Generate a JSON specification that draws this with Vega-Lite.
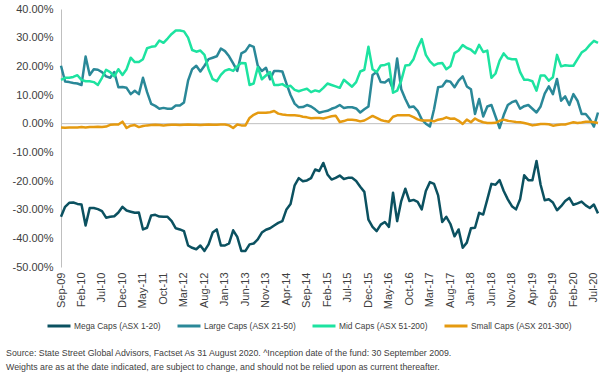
{
  "$schema": "https://vega.github.io/schema/vega-lite/v6.json",
  "width": 537,
  "height": 258,
  "autosize": {"type": "none"},
  "padding": {"left": 61, "top": 9, "right": 4, "bottom": 106},
  "background": "white",
  "config": {"font": "Liberation Sans", "view": {"stroke": null}, "axisY": {"labelOverlap": false}},
  "title": {
    "text": ["Source: State Street Global Advisors, Factset As 31 August 2020. ^Inception date of the fund: 30 September 2009.", "Weights are as at the date indicated, are subject to change, and should not be relied upon as current thereafter."],
    "orient": "bottom", "anchor": "start", "frame": "bounds", "fontSize": 8.8, "fontWeight": "normal", "color": "#404040", "offset": 17, "dx": -6, "lineHeight": 14
  },
  "data": {"values": [
    {"m":"Sep-09","mega":-32.5,"large":20.2,"mid":15.3,"small":-1.3},
    {"m":"Oct-09","mega":-29,"large":14.7,"mid":16,"small":-1.4},
    {"m":"Nov-09","mega":-27.6,"large":14.5,"mid":16,"small":-1.3},
    {"m":"Dec-09","mega":-27.5,"large":14.2,"mid":16.3,"small":-1.3},
    {"m":"Jan-10","mega":-28,"large":14.0,"mid":16.9,"small":-1.3},
    {"m":"Feb-10","mega":-28.2,"large":13.5,"mid":15.3,"small":-1.2},
    {"m":"Mar-10","mega":-35.5,"large":23.4,"mid":14.8,"small":-1.3},
    {"m":"Apr-10","mega":-29.4,"large":17,"mid":14.8,"small":-1.2},
    {"m":"May-10","mega":-29.4,"large":19,"mid":14.5,"small":-1.2},
    {"m":"Jun-10","mega":-29.8,"large":18.8,"mid":13.5,"small":-1.1},
    {"m":"Jul-10","mega":-30.5,"large":18,"mid":16,"small":-1.2},
    {"m":"Aug-10","mega":-32.8,"large":16.5,"mid":18.8,"small":-1.0},
    {"m":"Sep-10","mega":-32.5,"large":16,"mid":18,"small":-0.4},
    {"m":"Oct-10","mega":-32.3,"large":18,"mid":16.5,"small":-0.3},
    {"m":"Nov-10","mega":-31,"large":12.7,"mid":19,"small":-0.3},
    {"m":"Dec-10","mega":-29,"large":12.8,"mid":17,"small":0.7},
    {"m":"Jan-11","mega":-30.3,"large":12.5,"mid":19,"small":-1.5},
    {"m":"Feb-11","mega":-30.7,"large":10.3,"mid":23,"small":-0.7},
    {"m":"Mar-11","mega":-31.1,"large":11.5,"mid":21.5,"small":-0.5},
    {"m":"Apr-11","mega":-31,"large":10.3,"mid":21.5,"small":-1.2},
    {"m":"May-11","mega":-36.9,"large":16,"mid":22.5,"small":-0.8},
    {"m":"Jun-11","mega":-36.3,"large":11,"mid":26.3,"small":-0.6},
    {"m":"Jul-11","mega":-32,"large":6.9,"mid":26.8,"small":-0.5},
    {"m":"Aug-11","mega":-31.8,"large":6.2,"mid":27,"small":-0.4},
    {"m":"Sep-11","mega":-32.4,"large":5.2,"mid":29,"small":-0.5},
    {"m":"Oct-11","mega":-32.5,"large":5.5,"mid":28.2,"small":-0.6},
    {"m":"Nov-11","mega":-32.5,"large":5.2,"mid":29.7,"small":-0.5},
    {"m":"Dec-11","mega":-34,"large":5.2,"mid":31.3,"small":-0.4},
    {"m":"Jan-12","mega":-36.5,"large":6.3,"mid":32.5,"small":-0.4},
    {"m":"Feb-12","mega":-36.9,"large":6.3,"mid":32.5,"small":-0.5},
    {"m":"Mar-12","mega":-37.5,"large":7.4,"mid":32.2,"small":-0.4},
    {"m":"Apr-12","mega":-42.5,"large":15,"mid":30,"small":-0.3},
    {"m":"May-12","mega":-43.3,"large":19,"mid":25.7,"small":-0.4},
    {"m":"Jun-12","mega":-43.8,"large":20.2,"mid":25.1,"small":-0.4},
    {"m":"Jul-12","mega":-42.5,"large":18.2,"mid":25.5,"small":-0.5},
    {"m":"Aug-12","mega":-44.4,"large":20.2,"mid":24,"small":-0.4},
    {"m":"Sep-12","mega":-42.1,"large":22.5,"mid":19,"small":-0.3},
    {"m":"Oct-12","mega":-38,"large":23,"mid":15.5,"small":-0.4},
    {"m":"Nov-12","mega":-36.9,"large":23.5,"mid":14.8,"small":-0.4},
    {"m":"Dec-12","mega":-42.5,"large":26.2,"mid":17,"small":-0.3},
    {"m":"Jan-13","mega":-42.5,"large":25.3,"mid":18.5,"small":-0.3},
    {"m":"Feb-13","mega":-41.8,"large":23.5,"mid":19,"small":-0.6},
    {"m":"Mar-13","mega":-37.2,"large":21,"mid":18.4,"small":-1.5},
    {"m":"Apr-13","mega":-39.5,"large":18.4,"mid":20,"small":-0.3},
    {"m":"May-13","mega":-44.4,"large":24.5,"mid":21.2,"small":-0.6},
    {"m":"Jun-13","mega":-44.4,"large":25.3,"mid":21.1,"small":-0.6},
    {"m":"Jul-13","mega":-42.1,"large":27.4,"mid":13.5,"small":2},
    {"m":"Aug-13","mega":-41.8,"large":26.8,"mid":14,"small":3.1},
    {"m":"Sep-13","mega":-40.4,"large":20.2,"mid":19.7,"small":3.8},
    {"m":"Oct-13","mega":-38,"large":18.4,"mid":15.5,"small":3.8},
    {"m":"Nov-13","mega":-37,"large":19.5,"mid":16.8,"small":3.8},
    {"m":"Dec-13","mega":-36.5,"large":15.5,"mid":18,"small":4.0},
    {"m":"Jan-14","mega":-35.5,"large":18.4,"mid":13.5,"small":4.4},
    {"m":"Feb-14","mega":-34.6,"large":18.4,"mid":13.5,"small":3.5},
    {"m":"Mar-14","mega":-34,"large":18.2,"mid":13.8,"small":3.2},
    {"m":"Apr-14","mega":-29.9,"large":14,"mid":12.9,"small":3.0},
    {"m":"May-14","mega":-28,"large":10,"mid":13.2,"small":2.9},
    {"m":"Jun-14","mega":-21.5,"large":7,"mid":11.8,"small":2.9},
    {"m":"Jul-14","mega":-19,"large":5.7,"mid":11.3,"small":2.8},
    {"m":"Aug-14","mega":-20.1,"large":5.8,"mid":11.8,"small":2.4},
    {"m":"Sep-14","mega":-19.8,"large":6.5,"mid":12.2,"small":2.2},
    {"m":"Oct-14","mega":-19,"large":6,"mid":11,"small":1.9},
    {"m":"Nov-14","mega":-16,"large":5,"mid":11.6,"small":2.0},
    {"m":"Dec-14","mega":-16.5,"large":3.8,"mid":11.2,"small":2.0},
    {"m":"Jan-15","mega":-13.7,"large":4.2,"mid":12.5,"small":1.8},
    {"m":"Feb-15","mega":-17.7,"large":4.5,"mid":14,"small":2.2},
    {"m":"Mar-15","mega":-19.5,"large":5.2,"mid":13.5,"small":2.6},
    {"m":"Apr-15","mega":-18.9,"large":5.7,"mid":13,"small":2.8},
    {"m":"May-15","mega":-18.1,"large":6.5,"mid":12.5,"small":0.6},
    {"m":"Jun-15","mega":-19.3,"large":5.5,"mid":15.3,"small":0.9},
    {"m":"Jul-15","mega":-18.9,"large":5.7,"mid":14.1,"small":1.4},
    {"m":"Aug-15","mega":-18.9,"large":5.7,"mid":12.9,"small":1.4},
    {"m":"Sep-15","mega":-20,"large":5.3,"mid":14.5,"small":1.2},
    {"m":"Oct-15","mega":-22,"large":3.9,"mid":18.2,"small":0.8},
    {"m":"Nov-15","mega":-23.8,"large":5,"mid":18.8,"small":1.1},
    {"m":"Dec-15","mega":-33.5,"large":6,"mid":26.8,"small":1.9},
    {"m":"Jan-16","mega":-36,"large":17,"mid":19,"small":2.7},
    {"m":"Feb-16","mega":-37.5,"large":18,"mid":18,"small":2.0},
    {"m":"Mar-16","mega":-35.2,"large":14.5,"mid":20.3,"small":1.3},
    {"m":"Apr-16","mega":-34.3,"large":14.4,"mid":20.5,"small":0.9},
    {"m":"May-16","mega":-36,"large":15.5,"mid":21,"small":0.7},
    {"m":"Jun-16","mega":-24.1,"large":12,"mid":10.8,"small":2.4},
    {"m":"Jul-16","mega":-34,"large":22.7,"mid":11.5,"small":2.9},
    {"m":"Aug-16","mega":-27,"large":12,"mid":15,"small":2.9},
    {"m":"Sep-16","mega":-22.7,"large":8.6,"mid":20.3,"small":2.9},
    {"m":"Oct-16","mega":-27,"large":5.7,"mid":20.5,"small":2.9},
    {"m":"Nov-16","mega":-26.6,"large":6,"mid":22.5,"small":2.3},
    {"m":"Dec-16","mega":-27.3,"large":4.5,"mid":26.5,"small":1.5},
    {"m":"Jan-17","mega":-29.9,"large":1.5,"mid":29.5,"small":1.1},
    {"m":"Feb-17","mega":-23.5,"large":0,"mid":24,"small":1.1},
    {"m":"Mar-17","mega":-20.4,"large":-1.0,"mid":21.7,"small":1.1},
    {"m":"Apr-17","mega":-21,"large":5,"mid":20.3,"small":0.8},
    {"m":"May-17","mega":-25,"large":12.7,"mid":21,"small":1.4},
    {"m":"Jun-17","mega":-34.3,"large":13,"mid":21.2,"small":1.6},
    {"m":"Jul-17","mega":-32.5,"large":15,"mid":19,"small":2.2},
    {"m":"Aug-17","mega":-35,"large":14.6,"mid":20,"small":1.7},
    {"m":"Sep-17","mega":-39.3,"large":12.7,"mid":24.6,"small":1.8},
    {"m":"Oct-17","mega":-36.9,"large":15,"mid":25.5,"small":1.0},
    {"m":"Nov-17","mega":-43.3,"large":16.5,"mid":27.4,"small":-0.1},
    {"m":"Dec-17","mega":-41.5,"large":13,"mid":26.4,"small":1.4},
    {"m":"Jan-18","mega":-36.5,"large":12,"mid":25.8,"small":0.5},
    {"m":"Feb-18","mega":-36.3,"large":3.4,"mid":24.5,"small":1.8},
    {"m":"Mar-18","mega":-31.1,"large":8.6,"mid":27.5,"small":1.0},
    {"m":"Apr-18","mega":-31.7,"large":2.5,"mid":25,"small":0.5},
    {"m":"May-18","mega":-26.4,"large":6,"mid":25.5,"small":0.2},
    {"m":"Jun-18","mega":-21,"large":6.5,"mid":16,"small":0.2},
    {"m":"Jul-18","mega":-21.3,"large":2.5,"mid":17.5,"small":0.3},
    {"m":"Aug-18","mega":-19.7,"large":-1.5,"mid":22,"small":1.0},
    {"m":"Sep-18","mega":-23.5,"large":3,"mid":24.5,"small":1.4},
    {"m":"Oct-18","mega":-26.4,"large":6.5,"mid":22.8,"small":1.0},
    {"m":"Nov-18","mega":-28.8,"large":7.5,"mid":22.5,"small":0.8},
    {"m":"Dec-18","mega":-29.9,"large":8,"mid":22.5,"small":0.6},
    {"m":"Jan-19","mega":-26.4,"large":5.2,"mid":18,"small":0.5},
    {"m":"Feb-19","mega":-18,"large":6.1,"mid":15.3,"small":0.2},
    {"m":"Mar-19","mega":-19.7,"large":6.5,"mid":15.3,"small":-0.1},
    {"m":"Apr-19","mega":-19.7,"large":5.2,"mid":14.8,"small":-0.6},
    {"m":"May-19","mega":-13,"large":3.9,"mid":11.5,"small":-0.4},
    {"m":"Jun-19","mega":-21.3,"large":6,"mid":16.8,"small":-0.1},
    {"m":"Jul-19","mega":-26.7,"large":10.5,"mid":16.8,"small":-0.1},
    {"m":"Aug-19","mega":-26.4,"large":13,"mid":15,"small":-0.2},
    {"m":"Sep-19","mega":-27.5,"large":10.3,"mid":16.2,"small":-0.7},
    {"m":"Oct-19","mega":-30.2,"large":15.6,"mid":24,"small":-0.5},
    {"m":"Nov-19","mega":-28.8,"large":8,"mid":20,"small":-0.3},
    {"m":"Dec-19","mega":-27,"large":9.5,"mid":20.4,"small":-0.3},
    {"m":"Jan-20","mega":-25.9,"large":6.5,"mid":20.2,"small":0.1},
    {"m":"Feb-20","mega":-28.3,"large":10.3,"mid":20.2,"small":0.5},
    {"m":"Mar-20","mega":-27.8,"large":8,"mid":22.5,"small":0.2},
    {"m":"Apr-20","mega":-27.2,"large":3.4,"mid":24.8,"small":0.4},
    {"m":"May-20","mega":-28.5,"large":3.4,"mid":25.8,"small":0.7},
    {"m":"Jun-20","mega":-29.4,"large":1.6,"mid":27.5,"small":0.7},
    {"m":"Jul-20","mega":-28.2,"large":-1,"mid":28.9,"small":0.5},
    {"m":"Aug-20","mega":-31.3,"large":3.9,"mid":28.2,"small":0.2}
  ]},
  "layer": [
    {
      "data": {"values": [{}]},
      "mark": {"type": "rule", "color": "#BFBFBF", "strokeWidth": 1},
      "encoding": {
        "y": {
          "datum": 0, "type": "quantitative",
          "axis": {
            "title": null, "values": [-50, -40, -30, -20, -10, 0, 10, 20, 30, 40], "grid": false, "ticks": false,
            "labelOverlap": false, "labelFlush": false,
            "domainColor": "#BFBFBF", "labelFontSize": 11, "labelColor": "#404040", "labelPadding": 8,
            "labelExpr": "replace(format(datum.value, '.2f'), '\u2212', '-') + '%'"
          }
        }
      }
    },
    {
      "transform": [{"fold": ["mega", "large", "mid", "small"], "as": ["series", "value"]}],
      "mark": {"type": "line", "strokeWidth": 2.5, "strokeJoin": "round"},
      "encoding": {
        "x": {
          "field": "m", "type": "ordinal", "sort": null,
          "scale": {"type": "point", "padding": 0},
          "axis": {
            "title": null, "orient": "bottom", "domain": false, "ticks": false, "labelAngle": -90,
            "labelFontSize": 11, "labelColor": "#404040", "labelPadding": 5, "labelOverlap": false,
            "values": ["Sep-09","Feb-10","Jul-10","Dec-10","May-11","Oct-11","Mar-12","Aug-12","Jan-13","Jun-13","Nov-13","Apr-14","Sep-14","Feb-15","Jul-15","Dec-15","May-16","Oct-16","Mar-17","Aug-17","Jan-18","Jun-18","Nov-18","Apr-19","Sep-19","Feb-20","Jul-20"]
          }
        },
        "y": {
          "field": "value", "type": "quantitative",
          "scale": {"domain": [-50, 40], "nice": false},
          "axis": {
            "title": null, "values": [-50, -40, -30, -20, -10, 0, 10, 20, 30, 40], "grid": false, "ticks": false,
            "labelOverlap": false, "labelFlush": false,
            "domainColor": "#BFBFBF", "labelFontSize": 11, "labelColor": "#404040", "labelPadding": 8,
            "labelExpr": "replace(format(datum.value, '.2f'), '\u2212', '-') + '%'"
          }
        },
        "color": {
          "field": "series", "type": "nominal",
          "scale": {"domain": ["mega", "large", "mid", "small"], "range": ["#0B5160", "#2A8898", "#1DE3A0", "#E59A10"]},
          "legend": {
            "title": null, "orient": "none", "legendX": -15, "legendY": 304, "direction": "horizontal",
            "symbolType": "stroke", "symbolSize": 529, "symbolStrokeWidth": 3, "labelFontSize": 8.4,
            "labelColor": "#404040", "columnPadding": 10, "labelOffset": 2,
            "labelExpr": "datum.label == 'mega' ? 'Mega Caps (ASX 1-20)' : datum.label == 'large' ? 'Large Caps (ASX 21-50)' : datum.label == 'mid' ? 'Mid Caps (ASX 51-200)' : 'Small Caps (ASX 201-300)'"
          }
        }
      }
    }
  ]
}
